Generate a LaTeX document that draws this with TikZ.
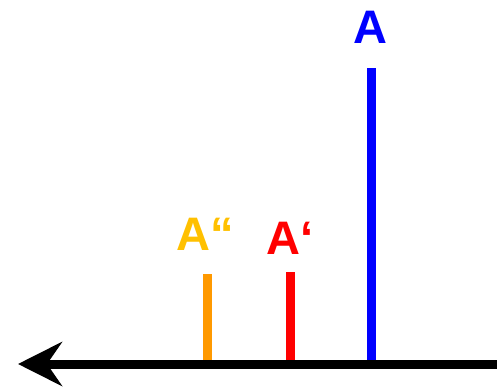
\documentclass[tikz,border=0pt]{standalone}
\usepackage{fontspec}
\setmainfont{Liberation Sans}
\usepackage{xcolor}
\usetikzlibrary{arrows.meta, positioning}

\definecolor{barorange}{HTML}{FF9900}
\definecolor{lblgold}{HTML}{FFC000}

\begin{document}
\begin{tikzpicture}[
    x=1pt,
    y=1pt,
    bar/.style={
        line width=9pt
    },
    axisline/.style={
        line width=9pt,
        -{Stealth[length=44pt, width=44pt, inset=15pt]}
    },
    lbl/.style={
        anchor=base,
        inner sep=0pt,
        font=\fontsize{47}{50}\selectfont\bfseries
    }
]
\useasboundingbox (0,0) rectangle (497,388);

% Axis
\coordinate (axisstart) at (497,24);
\coordinate (axisend) at (18,24);

% Bar feet and tops
\coordinate (footA) at (371.5,24);
\coordinate (topA) at (371.5,320);
\coordinate (footB) at (290.5,24);
\coordinate (topB) at (290.5,116);
\coordinate (footC) at (207.5,24);
\coordinate (topC) at (207.5,114);

% Bars
\draw[bar, blue] (footA) -- (topA);
\draw[bar, red] (footB) -- (topB);
\draw[bar, barorange] (footC) -- (topC);

% Labels
\node[lbl, text=blue] (labelA) at (370,344) {A};
\node[lbl, text=red] (labelB) at (290,133) {A‘};
\node[lbl, text=lblgold] (labelC) at (205,137) {A“};

% Main arrow
\draw[axisline] (axisstart) -- (axisend);

\end{tikzpicture}
\end{document}
